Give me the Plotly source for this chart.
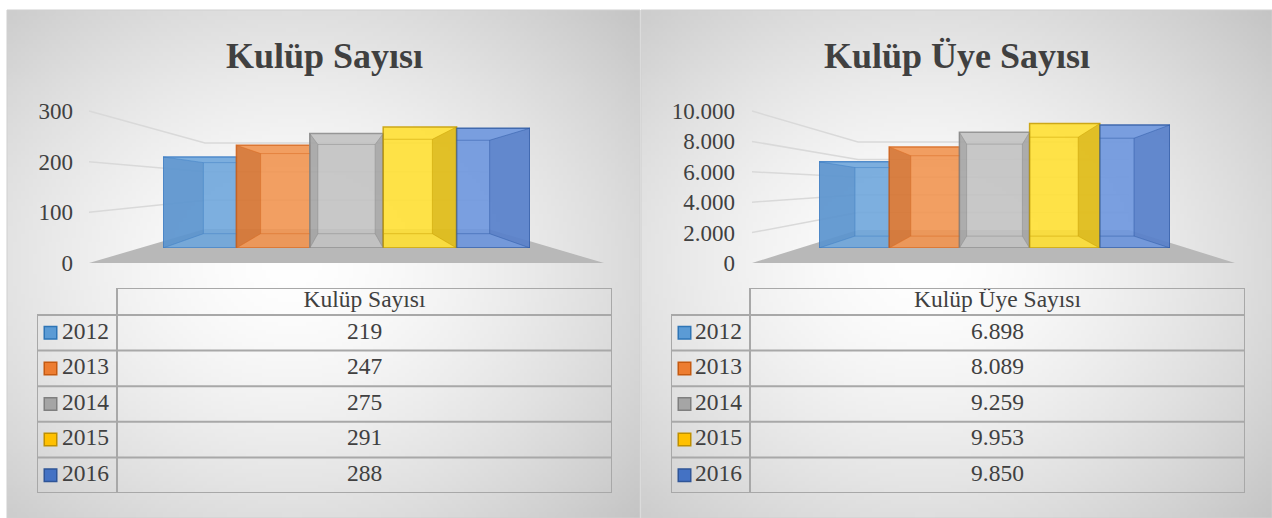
import base64
import struct
import zlib

import numpy as np
import plotly.graph_objects as go

# ---------------- data ----------------
years = ["2012", "2013", "2014", "2015", "2016"]
kulup_sayisi = [219, 247, 275, 291, 288]
kulup_uye_sayisi = [6898, 8089, 9259, 9953, 9850]
left_title = "Kulüp Sayısı"
right_title = "Kulüp Üye Sayısı"
left_ticks = [0, 100, 200, 300]
right_ticks = [0, 2000, 4000, 6000, 8000, 10000]

# ---------------- styles ----------------
face_colors = ["#6fa7dc", "#f19552", "#c3c3c3", "#ffe035", "#6d96de"]
edge_colors = ["#3f80c6", "#d9691f", "#8c8c8c", "#c9a000", "#2f5ca8"]
wall_colors = ["rgba(40,100,170,0.25)", "rgba(170,70,10,0.35)", "rgba(90,90,90,0.25)",
               "rgba(190,150,0,0.45)", "rgba(30,70,150,0.25)"]
key_fill = ["#5b9bd5", "#ed7d31", "#a5a5a5", "#ffc000", "#4472c4"]
key_edge = ["#2e75b6", "#c55a11", "#7f7f7f", "#bf9000", "#2f5597"]

W, H = 1272, 518
FONT = "Liberation Serif"
TXT = "#404040"
GRID = "#d9d9d9"
BORDER = "#a8a8a8"


def fx(px):
    return px / W


def fy(py):
    return 1 - py / H


def rgba(hexc, a):
    h = hexc.lstrip("#")
    return "rgba(%d,%d,%d,%s)" % (int(h[0:2], 16), int(h[2:4], 16), int(h[4:6], 16), a)


def gradient_uri(w, h, cx, cy, rx, ry, lo):
    yy, xx = np.mgrid[0:h, 0:w]
    t = np.sqrt((((xx + 0.5) / w - cx) / rx) ** 2 + (((yy + 0.5) / h - cy) / ry) ** 2)
    t = np.clip(t, 0, 1)
    val = 255 - (255 - lo) * t ** 1.5
    arr = np.repeat(val[..., None], 3, axis=2).astype(np.uint8)
    raw = b"".join(b"\x00" + arr[r].tobytes() for r in range(h))

    def chunk(tag, data):
        return (struct.pack(">I", len(data)) + tag + data
                + struct.pack(">I", zlib.crc32(tag + data) & 0xFFFFFFFF))

    png = (b"\x89PNG\r\n\x1a\n"
           + chunk(b"IHDR", struct.pack(">IIBBBBB", w, h, 8, 2, 0, 0, 0))
           + chunk(b"IDAT", zlib.compress(raw, 9))
           + chunk(b"IEND", b""))
    return "data:image/png;base64," + base64.b64encode(png).decode()


panels = [
    dict(box=(7, 10, 640, 518), title=left_title, title_x=324, values=kulup_sayisi,
         ticks=left_ticks, bar_x=(163, 530), base=248, ppu=0.416, vmax=350,
         tick_pos=74, tick_x=89, front_y=(263, 111), tick_top=300,
         wall_x=(205, 488), wall_y=(229, 143), floor_xr=604, vp_px=65, depth=0.78,
         table_x=(37, 117, 612), ax=("x", "y", "x3", "y3", "x5", "y5")),
    dict(box=(641, 10, 1272, 518), title=right_title, title_x=957, values=kulup_uye_sayisi,
         ticks=right_ticks, bar_x=(819, 1170), base=248, ppu=0.0125, vmax=11000,
         tick_pos=736, tick_x=752, front_y=(263, 111), tick_top=10000,
         wall_x=(858, 1129), wall_y=(230, 142), floor_xr=1235, vp_px=58, depth=0.795,
         table_x=(671, 750, 1245), ax=("x2", "y2", "x4", "y4", "x6", "y6")),
]

TABLE_TOP, HEADER_BOTTOM, TABLE_BOTTOM = 288, 315, 493
ROW_H = (TABLE_BOTTOM - HEADER_BOTTOM) / len(years)
HH = (HEADER_BOTTOM - TABLE_TOP) / ROW_H

fig = go.Figure()
shapes = []
annotations = []
images = []
layout_axes = {}


def axname(ref):
    return ref[0] + "axis" + ref[1:]


for p in panels:
    xb, yb, xtk, ytk, xt, ytb = p["ax"]
    x0p, y0p, x1p, y1p = p["box"]

    # panel background + border
    images.append(dict(source=gradient_uri(160, 128, 0.45, 0.5, 0.78, 0.78, 192),
                       xref="paper", yref="paper", x=fx(x0p), y=fy(y0p),
                       sizex=fx(x1p) - fx(x0p), sizey=fy(y0p) - fy(y1p),
                       xanchor="left", yanchor="top", sizing="stretch", layer="below"))
    shapes.append(dict(type="rect", xref="paper", yref="paper", x0=fx(x0p), x1=fx(x1p),
                       y0=fy(y1p), y1=fy(y0p), line=dict(color="#cfcfcf", width=1),
                       layer="below"))

    # title
    annotations.append(dict(text="<b>%s</b>" % p["title"], x=fx(p["title_x"]), y=fy(56),
                            xref="paper", yref="paper", showarrow=False,
                            xanchor="center", yanchor="middle",
                            font=dict(family=FONT, size=36, color=TXT)))

    # floor and perspective gridlines
    fy0, fy1 = p["front_y"]
    wx0, wx1 = p["wall_x"]
    wy0, wy1 = p["wall_y"]
    top = p["tick_top"]
    floor = "M %f %f L %f %f L %f %f L %f %f Z" % (
        fx(p["tick_x"]), fy(fy0), fx(wx0), fy(wy0), fx(wx1), fy(wy0), fx(p["floor_xr"]), fy(fy0))
    shapes.append(dict(type="path", xref="paper", yref="paper", path=floor,
                       fillcolor="#b8b8b8", line=dict(width=0), layer="below"))
    for v in p["ticks"][1:]:
        yf = fy0 - (fy0 - fy1) * v / top
        yw = wy0 - (wy0 - wy1) * v / top
        path = "M %f %f L %f %f L %f %f" % (fx(p["tick_x"]), fy(yf), fx(wx0), fy(yw), fx(wx1), fy(yw))
        shapes.append(dict(type="path", xref="paper", yref="paper", path=path,
                           line=dict(color=GRID, width=1.5), layer="below"))

    # bars
    n = len(years)
    xs = list(range(n))
    fig.add_trace(go.Bar(x=xs, y=p["values"], width=1, hovertext=years, hoverinfo="text+y",
                         marker=dict(color=face_colors, opacity=0.9,
                                     line=dict(color=edge_colors, width=1.5)),
                         xaxis=xb, yaxis=yb, showlegend=False))
    layout_axes[axname(xb)] = dict(domain=[fx(p["bar_x"][0]), fx(p["bar_x"][1])],
                                   range=[-0.5, n - 0.5], visible=False, anchor=yb,
                                   automargin=False)
    layout_axes[axname(yb)] = dict(domain=[fy(p["base"]), fy(p["base"] - p["vmax"] * p["ppu"])],
                                   range=[0, p["vmax"]], visible=False, anchor=xb,
                                   automargin=False)

    # 3D interior of each bar
    cx = (n - 1) / 2
    cy = p["vp_px"] / p["ppu"]
    s = p["depth"]
    for i, v in enumerate(p["values"]):
        x0, x1 = i - 0.5, i + 0.5
        bx0, by0 = cx + s * (x0 - cx), cy + s * (0 - cy)
        bx1, by1 = cx + s * (x1 - cx), cy + s * (v - cy)
        lc = rgba(edge_colors[i], 0.5)
        if bx0 > x0:
            shapes.append(dict(type="path", xref=xb, yref=yb, layer="above",
                               path="M %f 0 L %f %f L %f %f L %f %f Z" % (x0, x0, v, bx0, by1, bx0, by0),
                               fillcolor=wall_colors[i], line=dict(width=0)))
            for yy, byy in ((0, by0), (v, by1)):
                shapes.append(dict(type="line", xref=xb, yref=yb, x0=x0, y0=yy, x1=bx0, y1=byy,
                                   line=dict(color=lc, width=1), layer="above"))
            shapes.append(dict(type="line", xref=xb, yref=yb, x0=bx0, y0=by0, x1=bx0, y1=by1,
                               line=dict(color=lc, width=1), layer="above"))
        if bx1 < x1:
            shapes.append(dict(type="path", xref=xb, yref=yb, layer="above",
                               path="M %f 0 L %f %f L %f %f L %f %f Z" % (x1, x1, v, bx1, by1, bx1, by0),
                               fillcolor=wall_colors[i], line=dict(width=0)))
            for yy, byy in ((0, by0), (v, by1)):
                shapes.append(dict(type="line", xref=xb, yref=yb, x0=x1, y0=yy, x1=bx1, y1=byy,
                                   line=dict(color=lc, width=1), layer="above"))
            shapes.append(dict(type="line", xref=xb, yref=yb, x0=bx1, y0=by0, x1=bx1, y1=by1,
                               line=dict(color=lc, width=1), layer="above"))
        hx0, hx1 = max(bx0, x0), min(bx1, x1)
        for yy in (by0, by1):
            shapes.append(dict(type="line", xref=xb, yref=yb, x0=hx0, y0=yy, x1=hx1, y1=yy,
                               line=dict(color=lc, width=1), layer="above"))

    # value axis labels (front plane), on their own small subplot
    fig.add_trace(go.Scatter(x=[None], y=[None], xaxis=xtk, yaxis=ytk, showlegend=False,
                             hoverinfo="skip"))
    layout_axes[axname(xtk)] = dict(domain=[fx(p["tick_pos"]), fx(p["tick_pos"] + 4)],
                                    range=[0, 1], visible=False, anchor=ytk, automargin=False)
    layout_axes[axname(ytk)] = dict(domain=[fy(fy0), fy(fy1)], range=[0, top], anchor=xtk,
                                    side="left", tickvals=p["ticks"], tickformat=",d",
                                    showgrid=False, zeroline=False, showline=False, ticks="",
                                    automargin=False,
                                    tickfont=dict(family=FONT, size=23, color=TXT))

    # data table
    tx0, tx1, tx2 = p["table_x"]
    c = (tx1 - tx0) / (tx2 - tx0)
    layout_axes[axname(xt)] = dict(domain=[fx(tx0), fx(tx2)], range=[0, 1], visible=False,
                                   anchor=ytb, automargin=False)
    layout_axes[axname(ytb)] = dict(domain=[fy(TABLE_BOTTOM), fy(TABLE_TOP)],
                                    range=[n - 0.5, -0.5 - HH], visible=False, anchor=xt,
                                    automargin=False)
    rows = list(range(n))
    line = dict(color=BORDER, width=2)
    shapes.append(dict(type="line", xref=xt, yref=ytb, x0=c, x1=1, y0=-0.5 - HH, y1=-0.5 - HH,
                       line=line))
    for r in range(n + 1):
        shapes.append(dict(type="line", xref=xt, yref=ytb, x0=0, x1=1, y0=r - 0.5, y1=r - 0.5,
                           line=line))
    shapes.append(dict(type="line", xref=xt, yref=ytb, x0=0, x1=0, y0=-0.5, y1=n - 0.5, line=line))
    for xv in (c, 1):
        shapes.append(dict(type="line", xref=xt, yref=ytb, x0=xv, x1=xv, y0=-0.5 - HH,
                           y1=n - 0.5, line=line))
    pad = 8 / (tx2 - tx0)
    key_x = 13.5 / (tx2 - tx0)
    vals_txt = ["{:,}".format(v).replace(",", ".") for v in p["values"]]
    fig.add_trace(go.Scatter(x=[(c + 1) / 2], y=[-0.5 - HH / 2], text=[p["title"]], mode="text",
                             textposition="middle center", xaxis=xt, yaxis=ytb,
                             textfont=dict(family=FONT, size=23.5, color=TXT),
                             showlegend=False, hoverinfo="skip"))
    fig.add_trace(go.Scatter(x=[c - pad] * n, y=rows, text=years, mode="text",
                             textposition="middle left", xaxis=xt, yaxis=ytb,
                             textfont=dict(family=FONT, size=23.5, color=TXT),
                             showlegend=False, hoverinfo="skip"))
    fig.add_trace(go.Scatter(x=[(c + 1) / 2] * n, y=rows, text=vals_txt, mode="text",
                             textposition="middle center", xaxis=xt, yaxis=ytb,
                             textfont=dict(family=FONT, size=23.5, color=TXT),
                             showlegend=False, hoverinfo="skip"))
    fig.add_trace(go.Scatter(x=[key_x] * n, y=rows, mode="markers", xaxis=xt, yaxis=ytb,
                             marker=dict(symbol="square", size=12.5, color=key_fill,
                                         line=dict(color=key_edge, width=1.5)),
                             showlegend=False, hoverinfo="skip"))

fig.update_layout(
    width=W, height=H, autosize=False,
    margin=dict(l=0, r=0, t=0, b=0, pad=0, autoexpand=False),
    paper_bgcolor="white", plot_bgcolor="rgba(0,0,0,0)",
    separators=",.", barmode="overlay",
    shapes=shapes, annotations=annotations, images=images,
    **layout_axes,
)

# pin the figure to the page's top-left corner (no body margin / stray line box)
PIN = ("var gd = document.getElementById('{plot_id}');"
       "document.documentElement.style.margin='0';document.body.style.margin='0';"
       "document.documentElement.style.overflow='hidden';document.body.style.overflow='hidden';"
       "gd.style.position='absolute';gd.style.left='0px';gd.style.top='0px';")

fig.write_html("out.html", post_script=PIN, config={"displayModeBar": False})
